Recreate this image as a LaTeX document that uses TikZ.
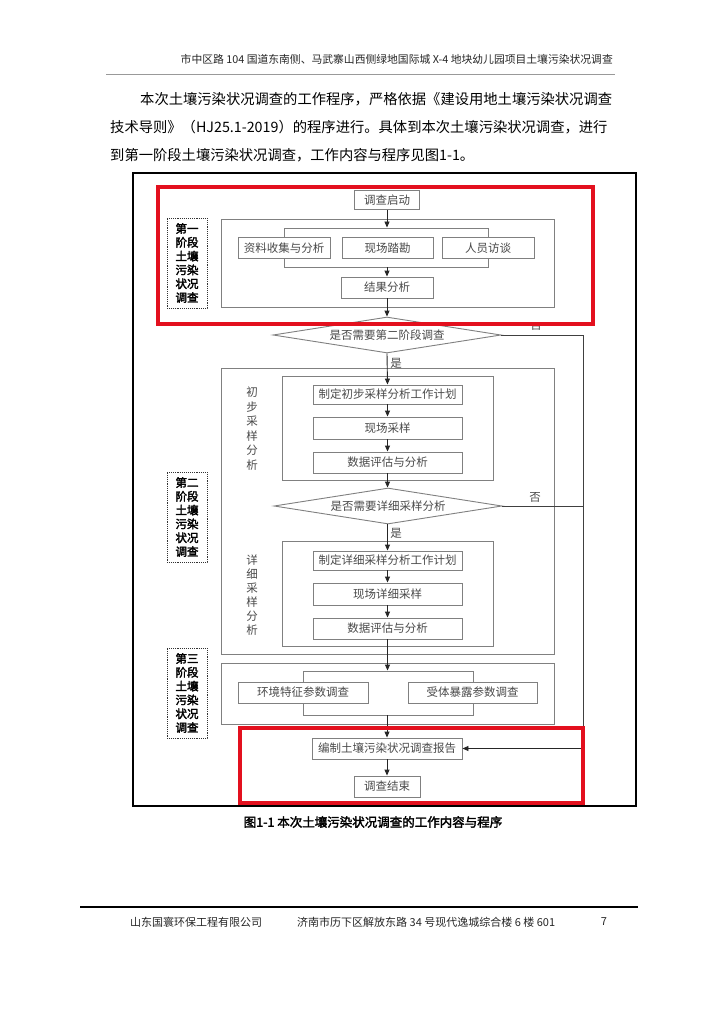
\documentclass[tikz,border=0pt]{standalone}
\usepackage{fontspec}
\setmainfont{Noto Sans CJK SC}[AutoFakeBold=2.5]
\usetikzlibrary{shapes.geometric,arrows.meta}
\definecolor{boxgray}{HTML}{808080}
\definecolor{txtgray}{HTML}{4A4A4A}
\definecolor{redbox}{HTML}{E3101E}
\begin{document}
\begin{tikzpicture}[x=1pt,y=-1pt,
  box/.style={draw=boxgray,line width=0.9pt,fill=white,minimum height=21pt,inner sep=0pt,
    font=\fontsize{11.5}{12}\selectfont,text=txtgray},
  grp/.style={draw=boxgray,line width=0.9pt,inner sep=0pt},
  dec/.style={diamond,draw=boxgray,line width=0.9pt,fill=white,aspect=6.3,
    minimum width=228pt,minimum height=36pt,inner sep=0pt,
    font=\fontsize{11.5}{12}\selectfont,text=txtgray},
  arr/.style={-{Triangle[length=6pt,width=5pt]},line width=0.9pt,black!85},
  conn/.style={line width=0.9pt,black!75},
  lbl/.style={font=\fontsize{11.5}{12}\selectfont,text=txtgray,inner sep=0pt},
  vlbl/.style={font=\fontsize{11.5}{14.5}\selectfont,text=txtgray,align=center,inner sep=0pt},
  stagebox/.style={draw=black!80,densely dotted,line width=0.9pt,minimum width=40pt,
    minimum height=90pt,inner sep=0pt,align=center,
    font=\bfseries\fontsize{11.5}{13.8}\selectfont},
  redframe/.style={draw=redbox,line width=4pt},
  para/.style={font=\fontsize{14.3}{15}\selectfont,inner sep=0pt},
  hdr/.style={font=\fontsize{10.8}{11}\selectfont,inner sep=0pt,text=black!85}
]
\fill[white] (0,0) rectangle (724,1024);
\useasboundingbox (0,0) rectangle (724,1024);

% header
\node[hdr,anchor=east] (header) at (613,59) {市中区路 104 国道东南侧、马武寨山西侧绿地国际城 X-4 地块幼儿园项目土壤污染状况调查};
\draw[black!40,line width=0.5pt] (106,74) -- (615,74);

% paragraph
\node[para,anchor=west] (l1) at (140,99) {本次土壤污染状况调查的工作程序，严格依据《建设用地土壤污染状况调查};
\node[para,anchor=west] (l2) at (110,127) {技术导则》（HJ25.1-2019）的程序进行。具体到本次土壤污染状况调查，进行};
\node[para,anchor=west] (l3) at (110,155) {到第一阶段土壤污染状况调查，工作内容与程序见图1-1。};

% outer frame
\draw[line width=1.5pt] (133,173) rectangle (636,806);

% stage labels
\node[stagebox] (s1) at (187,263) {第一\\阶段\\土壤\\污染\\状况\\调查};
\node[stagebox] (s2) at (187,517) {第二\\阶段\\土壤\\污染\\状况\\调查};
\node[stagebox] (s3) at (187,693) {第三\\阶段\\土壤\\污染\\状况\\调查};

% group boxes
\node[grp,minimum width=333pt,minimum height=88pt] (g1) at (387.5,263) {};
\node[grp,minimum width=204pt,minimum height=39pt] (br1) at (386,247.5) {};
\node[grp,minimum width=333pt,minimum height=286pt] (g2) at (387.5,511) {};
\node[grp,minimum width=211pt,minimum height=104pt] (g2a) at (387.5,428) {};
\node[grp,minimum width=211pt,minimum height=105pt] (g2b) at (387.5,593.5) {};
\node[grp,minimum width=333pt,minimum height=61pt] (g3) at (387.5,693.5) {};
\node[grp,minimum width=170pt,minimum height=44pt] (br3) at (388,693) {};

% stage 1
\node[box,minimum width=65pt,minimum height=19pt] (start) at (387,200) {调查启动};
\node[box,minimum width=92pt] (a1) at (284,248) {资料收集与分析};
\node[box,minimum width=91pt] (a2) at (387.5,248) {现场踏勘};
\node[box,minimum width=92pt] (a3) at (488,248) {人员访谈};
\node[box,minimum width=92pt] (res) at (387,287.5) {结果分析};
\node[dec] (d1) at (387,335) {是否需要第二阶段调查};

% stage 2
\node[vlbl] (v1) at (252,428.5) {初\\步\\采\\样\\分\\析};
\node[box,minimum width=149pt,minimum height=19pt] (p1) at (387.5,394.5) {制定初步采样分析工作计划};
\node[box,minimum width=149pt,minimum height=22pt] (p2) at (387.5,428) {现场采样};
\node[box,minimum width=149pt] (p3) at (387.5,462.5) {数据评估与分析};
\node[dec] (d2) at (388,506) {是否需要详细采样分析};
\node[vlbl,font=\fontsize{11.5}{14}\selectfont] (v2) at (252,595) {详\\细\\采\\样\\分\\析};
\node[box,minimum width=149pt,minimum height=19pt] (q1) at (387.5,560.5) {制定详细采样分析工作计划};
\node[box,minimum width=149pt,minimum height=22pt] (q2) at (387.5,594) {现场详细采样};
\node[box,minimum width=149pt] (q3) at (387.5,628.5) {数据评估与分析};

% stage 3
\node[box,minimum width=130pt] (e1) at (303,692.5) {环境特征参数调查};
\node[box,minimum width=129pt] (e2) at (472.5,692.5) {受体暴露参数调查};
\node[box,minimum width=150pt] (rep) at (387,748.5) {编制土壤污染状况调查报告};
\node[box,minimum width=66pt] (end) at (387,786.5) {调查结束};

% connectors
\draw[arr] (start.south) -- (start.south |- br1.north);
\draw[arr] (br1.south -| res.north) -- (res.north);
\draw[arr] (res.south) -- (d1.north);
\draw[arr] (d1.south) -- (p1.north);
\draw[arr] (p1.south) -- (p2.north);
\draw[arr] (p2.south) -- (p3.north);
\draw[arr] (p3.south) -- (p3.south |- d2.north);
\draw[arr] (d2.south -| q1.north) -- (q1.north);
\draw[arr] (q1.south) -- (q2.north);
\draw[arr] (q2.south) -- (q3.north);
\draw[arr] (q3.south) -- (q3.south |- br3.north);
\draw[arr] (br3.south -| rep.north) -- (rep.north);
\draw[arr] (rep.south) -- (end.north);

\coordinate (c1) at (583,335);
\coordinate (c2) at (583,748.5);
\draw[conn] (d1.east) -- (c1) -- (c2);
\draw[arr] (c2) -- (rep.east);
\draw[conn] (d2.east) -- (d2.east -| c1);

\begin{scope}
  \clip (520,326) rectangle (560,345);
  \node[lbl] (no1) at (536,325) {否};
\end{scope}
\node[lbl] (yes1) at (396,363) {是};
\node[lbl] (no2) at (535,497) {否};
\node[lbl] (yes2) at (396,533) {是};

% red highlight frames
\draw[redframe] (158,187) rectangle (593,324);
\draw[redframe] (240,728) rectangle (583,803);

% caption
\node[font=\bfseries\fontsize{12.5}{13}\selectfont,inner sep=0pt] (cap) at (373,822) {图1-1 本次土壤污染状况调查的工作内容与程序};

% footer
\draw[line width=1.8pt] (80,907) -- (638,907);
\node[hdr,anchor=west,font=\fontsize{11}{11}\selectfont] (f1) at (130,922) {山东国寰环保工程有限公司};
\node[hdr,anchor=west,font=\fontsize{11}{11}\selectfont] (f2) at (297,922) {济南市历下区解放东路 34 号现代逸城综合楼 6 楼 601};
\node[hdr,font=\fontsize{11}{11}\selectfont] (f3) at (604,922) {7};
\end{tikzpicture}
\end{document}
